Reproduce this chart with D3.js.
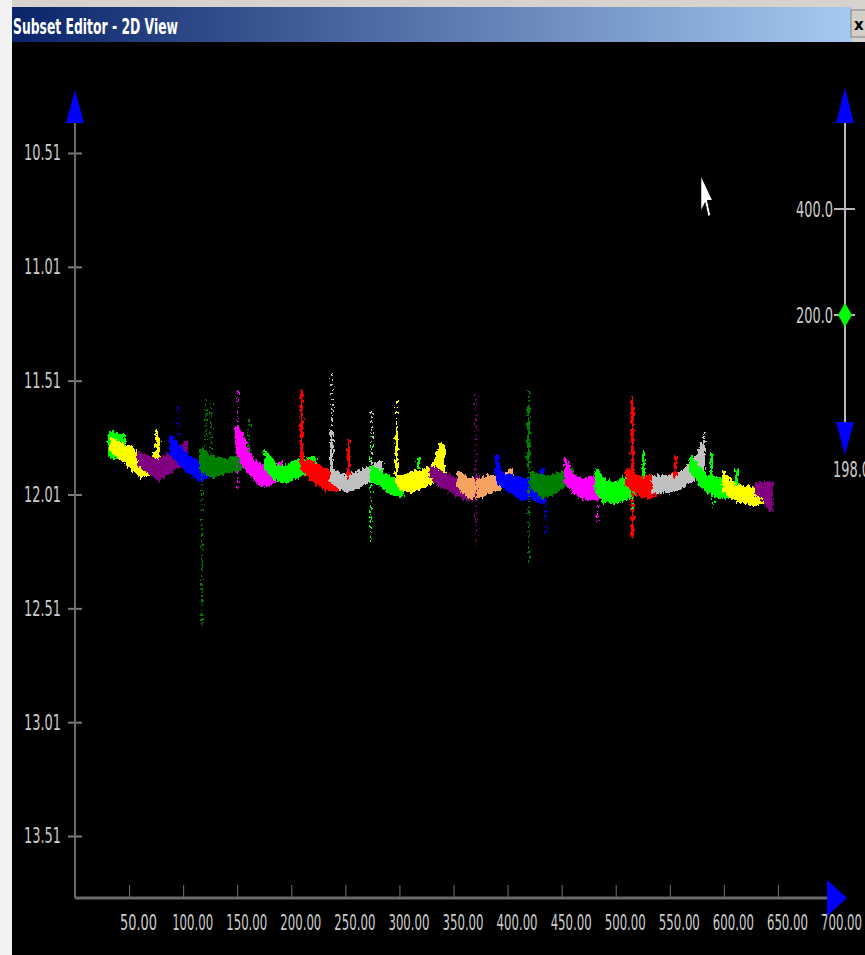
<!DOCTYPE html>
<html>
<head>
<meta charset="utf-8">
<script src="https://cdn.jsdelivr.net/npm/d3@7"></script>
<style>
  body { margin: 0; background: #d6d3ce; }
  svg { display: block; }
  .lbl { fill: #cccccc; font-family: "Liberation Sans Narrow", "DejaVu Sans Condensed", sans-serif; font-size: 18px; }
</style>
</head>
<body>
<div id="view"></div>
<script>
// tick values
var xTicks = [50, 100, 150, 200, 250, 300, 350, 400, 450, 500, 550, 600, 650, 700];
var yTicks = [10.51, 11.01, 11.51, 12.01, 12.51, 13.01, 13.51];
var sliderTicks = [400, 200];
var sliderValue = 200;
var sliderMin = 198;

// scatter segments (one band per subset)
var segColor = ["#00ff00", "#ffff00", "#800080", "#0000ff", "#008000", "#ff00ff", "#00ff00", "#ff0000",
    "#c0c0c0", "#00ff00", "#ffff00", "#800080", "#f4a460", "#0000ff", "#008000", "#ff00ff", "#00ff00",
    "#ff0000", "#c0c0c0", "#00ff00", "#ffff00", "#800080"];
var segX = [
    [32.3, 44.4],
    [33.3, 42.5, 51.7, 61.0, 68.4, 74.8, 77.6],
    [59.1, 68.4, 77.6, 86.9, 96.1, 103.5],
    [88.7, 96.1, 105.3, 114.6, 123.8, 128.4],
    [116.4, 126.6, 139.5, 151.5, 160.8],
    [149.7, 154.3, 163.5, 172.8, 182.0, 190.3],
    [176.5, 185.7, 195.0, 204.2, 213.4, 222.7],
    [209.7, 219.0, 231.9, 243.9, 253.2],
    [237.5, 250.4, 262.4, 274.4, 283.7],
    [274.4, 283.7, 292.9, 302.1],
    [297.5, 302.1, 311.4, 320.6, 329.9, 336.3, 341.0],
    [329.0, 336.3, 345.6, 354.8, 364.1, 373.3],
    [354.8, 364.1, 373.3, 382.5, 394.5, 403.8],
    [389.9, 394.5, 403.8, 413.0, 422.3, 433.4],
    [422.3, 431.5, 440.7, 450.0, 459.2],
    [453.7, 459.2, 468.5, 477.7, 486.9],
    [482.3, 490.6, 499.9, 509.1, 518.4],
    [510.0, 521.1, 530.4, 539.6, 548.9, 555.3],
    [535.0, 546.1, 555.3, 564.6, 573.8, 581.2],
    [569.2, 576.6, 585.8, 595.1, 604.3, 613.5],
    [599.7, 607.1, 616.3, 625.5, 634.8, 641.3],
    [629.2, 636.6, 644.0]
];
var segTop = [
    [11.737, 11.750],
    [11.768, 11.790, 11.803, 11.847, 11.878, 11.825, 11.768],
    [11.825, 11.847, 11.856, 11.834, 11.812, 11.781],
    [11.755, 11.799, 11.843, 11.869, 11.869, 11.878],
    [11.812, 11.847, 11.856, 11.843, 11.825],
    [11.711, 11.755, 11.856, 11.887, 11.900, 11.869],
    [11.821, 11.887, 11.887, 11.865, 11.856, 11.847],
    [11.856, 11.869, 11.900, 11.931, 11.931],
    [11.900, 11.931, 11.913, 11.887, 11.865],
    [11.887, 11.913, 11.944, 11.953],
    [11.922, 11.931, 11.913, 11.909, 11.887, 11.825, 11.799],
    [11.887, 11.909, 11.931, 11.944, 11.953, 11.931],
    [11.913, 11.944, 11.944, 11.931, 11.931, 11.900],
    [11.843, 11.913, 11.931, 11.944, 11.944, 11.900],
    [11.913, 11.931, 11.931, 11.913, 11.900],
    [11.856, 11.922, 11.944, 11.935, 11.944],
    [11.900, 11.953, 11.957, 11.935, 11.931],
    [11.900, 11.931, 11.931, 11.935, 11.931, 11.913],
    [11.931, 11.931, 11.931, 11.900, 11.856, 11.781],
    [11.847, 11.891, 11.931, 11.944, 11.957, 11.966],
    [11.913, 11.957, 11.975, 11.979, 11.975, 11.975],
    [11.966, 11.957, 11.957]
];
var segBottom = [
    [11.847, 11.847],
    [11.812, 11.856, 11.891, 11.931, 11.922, 11.887, 11.856],
    [11.878, 11.913, 11.944, 11.913, 11.887, 11.856],
    [11.834, 11.869, 11.913, 11.944, 11.931, 11.909],
    [11.900, 11.931, 11.913, 11.900, 11.878],
    [11.812, 11.869, 11.931, 11.975, 11.957, 11.931],
    [11.900, 11.944, 11.957, 11.935, 11.913, 11.900],
    [11.900, 11.944, 11.988, 11.988, 11.957],
    [11.957, 11.997, 11.975, 11.944, 11.931],
    [11.944, 11.975, 12.010, 12.019],
    [11.953, 11.988, 11.997, 11.979, 11.957, 11.931, 11.909],
    [11.931, 11.966, 11.988, 12.019, 12.032, 12.019],
    [11.975, 12.023, 12.023, 12.001, 11.979, 11.957],
    [11.931, 11.975, 12.001, 12.032, 12.023, 12.045],
    [11.975, 12.023, 12.010, 11.979, 11.957],
    [11.957, 11.988, 12.023, 12.032, 12.023],
    [12.001, 12.041, 12.045, 12.032, 12.001],
    [11.957, 12.010, 12.023, 12.001, 11.988, 11.975],
    [12.001, 11.997, 11.988, 11.966, 11.931, 11.900],
    [11.900, 11.953, 12.001, 12.019, 12.023, 12.032],
    [11.988, 12.023, 12.041, 12.054, 12.045, 12.041],
    [12.001, 12.032, 12.085]
];

// outlier spikes (vertical runs of points)
var spikeX =     [75.8, 95.2, 121.0, 125.7, 117.3, 160.8, 150.6, 209.7, 253.2, 237.5, 237.5, 274.4, 273.5, 317.9,
                  297.5, 297.5, 338.2, 371.0, 435.2, 419.5, 419.5, 483.3, 525.8, 515.6, 515.6, 555.3, 581.2, 588.6, 590.0, 611.7];
var spikeY0 =    [11.724, 11.627, 11.592, 11.605, 11.900, 11.680, 11.557, 11.549, 11.768, 11.482, 11.724, 11.649, 11.751, 11.847,
                  11.583, 11.724, 11.781, 11.570, 12.032, 11.557, 11.620, 12.032, 11.821, 11.583, 12.000, 11.843, 11.737, 11.825, 12.000, 11.900];
var spikeY1 =    [11.856, 11.755, 11.856, 11.900, 12.582, 11.825, 11.988, 11.869, 11.944, 11.724, 11.944, 11.900, 12.230, 11.900,
                  11.724, 11.944, 11.900, 12.252, 12.186, 12.318, 11.900, 12.142, 11.931, 12.195, 12.089, 11.931, 11.887, 11.944, 12.070, 11.966];
var spikeColor = ["#ffff00", "#0000ff", "#008000", "#008000", "#008000", "#008000", "#ff00ff", "#ff0000", "#ff0000", "#c0c0c0",
                  "#c0c0c0", "#c0c0c0", "#00ff00", "#00ff00", "#ffff00", "#ffff00", "#ffff00", "#800080", "#0000ff", "#008000",
                  "#008000", "#ff00ff", "#00ff00", "#ff0000", "#00ff00", "#ff0000", "#c0c0c0", "#00ff00", "#00ff00", "#00ff00"];
var spikeDotted = [0, 1, 1, 1, 1, 1, 1, 0, 0, 1, 0, 1, 1, 0, 1, 0, 0, 1, 1, 1, 0, 1, 0, 0, 1, 0, 1, 0, 1, 0];

var W = 865, H = 955;
var sY = 1.2; // the screenshot's text is stretched vertically
var svg = d3.select("#view").append("svg").attr("width", W).attr("height", H);

// window chrome
var defs = svg.append("defs");
var grad = defs.append("linearGradient").attr("id", "titleGrad");
grad.append("stop").attr("offset", "0%").attr("stop-color", "#0a246a");
grad.append("stop").attr("offset", "100%").attr("stop-color", "#a6caf0");

var filt = defs.append("filter").attr("id", "grain")
    .attr("filterUnits", "userSpaceOnUse")
    .attr("x", 60).attr("y", 330).attr("width", 800).attr("height", 330);
filt.append("feTurbulence").attr("type", "fractalNoise").attr("baseFrequency", "0.45 0.25")
    .attr("numOctaves", 2).attr("seed", 7).attr("result", "noise");
filt.append("feDisplacementMap").attr("in", "SourceGraphic").attr("in2", "noise")
    .attr("scale", 7).attr("xChannelSelector", "R").attr("yChannelSelector", "G");

svg.append("rect").attr("x", 0).attr("y", 0).attr("width", 12).attr("height", H).attr("fill", "#f2f2f2");
svg.append("rect").attr("x", 12).attr("y", 7).attr("width", 840).attr("height", 35).attr("fill", "url(#titleGrad)");
svg.append("text").attr("x", 13).attr("y", 34 / sY)
    .attr("transform", "scale(1," + sY + ")")
    .attr("fill", "#ffffff")
    .style("font-family", "'DejaVu Sans Condensed', 'Liberation Sans Narrow', sans-serif")
    .style("font-weight", "bold").style("font-size", "18px")
    .attr("textLength", 165).attr("lengthAdjust", "spacingAndGlyphs")
    .text("Subset Editor - 2D View");
svg.append("rect").attr("x", 851).attr("y", 10).attr("width", 18).attr("height", 27)
    .attr("fill", "#d4d0c8").attr("stroke", "#808080");
svg.append("text").attr("x", 854).attr("y", 30).attr("fill", "#000")
    .style("font-family", "'DejaVu Sans', sans-serif").style("font-weight", "bold").style("font-size", "15px")
    .text("x");
svg.append("rect").attr("x", 12).attr("y", 42).attr("width", W - 12).attr("height", H - 42).attr("fill", "#000");

// scales
var x = d3.scaleLinear().domain([0, 700]).range([75, 832]);
var y = d3.scaleLinear().domain([10.51, 13.51]).range([153, 836]);
var sy = d3.scaleLinear().domain([200, 400]).range([315, 209]);

var axisCol = "#6a6a6a";

// y axis
var gy = svg.append("g").attr("transform", "translate(" + x(0) + ",0)")
    .call(d3.axisLeft(y).tickValues(yTicks).tickFormat(d3.format(".2f")).tickSize(7).tickPadding(6));
gy.select(".domain").remove();
gy.selectAll(".tick line").attr("x1", 7).attr("x2", -7).attr("stroke", "#7a7a7a").attr("stroke-width", 2);
gy.selectAll(".tick text").attr("class", "lbl").attr("x", -14)
    .attr("transform", "scale(1," + sY + ")")
    .attr("textLength", 37).attr("lengthAdjust", "spacingAndGlyphs");
gy.append("line").attr("x1", 0).attr("x2", 0).attr("y1", 120).attr("y2", 898)
    .attr("stroke", axisCol).attr("stroke-width", 2);
gy.append("path").attr("d", "M-9,123 L0,90 L9,123 Z").attr("fill", "#0000ff");

// x axis
var gx = svg.append("g").attr("transform", "translate(0,898)")
    .call(d3.axisBottom(x).tickValues(xTicks).tickFormat(d3.format(".2f")).tickSize(0));
gx.select(".domain").remove();
gx.selectAll(".tick line").attr("y1", -13).attr("y2", 0).attr("stroke", "#707070").attr("stroke-width", 1);
gx.selectAll(".tick text").attr("class", "lbl").attr("x", 9).attr("y", 32 / sY).attr("dy", null)
    .attr("transform", "scale(1," + sY + ")")
    .attr("textLength", function(d) { return d < 100 ? 37 : 41; })
    .attr("lengthAdjust", "spacingAndGlyphs");
gx.append("line").attr("x1", x(0)).attr("x2", 830).attr("y1", 0).attr("y2", 0)
    .attr("stroke", axisCol).attr("stroke-width", 3);
gx.append("path").attr("d", "M827,-18 L847,0 L827,18 Z").attr("fill", "#0000ff");

// scatter bands
var plot = svg.append("g").attr("filter", "url(#grain)").attr("shape-rendering", "crispEdges");
var area = d3.area()
    .x(function(d) { return x(d.x); })
    .y0(function(d) { return y(d.top); })
    .y1(function(d) { return y(d.bot); });

var segs = segX.map(function(xs, i) {
    return {
        color: segColor[i],
        pts: xs.map(function(v, j) { return {x: v, top: segTop[i][j], bot: segBottom[i][j]}; })
    };
});
plot.selectAll("path.seg").data(segs).enter().append("path")
    .attr("class", "seg")
    .attr("d", function(d) { return area(d.pts); })
    .attr("fill", function(d) { return d.color; })
    .attr("stroke", function(d) { return d.color; })
    .attr("stroke-width", 3)
    .attr("stroke-linejoin", "round");

var spikes = spikeX.map(function(v, i) {
    return {x: v, y0: spikeY0[i], y1: spikeY1[i], color: spikeColor[i], dotted: spikeDotted[i]};
});
plot.selectAll("line.spike").data(spikes).enter().append("line")
    .attr("class", "spike")
    .attr("x1", function(d) { return x(d.x); })
    .attr("x2", function(d) { return x(d.x); })
    .attr("y1", function(d) { return y(d.y0); })
    .attr("y2", function(d) { return y(d.y1); })
    .attr("stroke", function(d) { return d.color; })
    .attr("stroke-width", function(d) { return d.dotted ? 2 : 3; })
    .attr("stroke-dasharray", function(d) { return d.dotted ? "2,3" : null; });

// slider on the right
var gs = svg.append("g");
gs.append("line").attr("x1", 845).attr("x2", 845).attr("y1", 120).attr("y2", 425)
    .attr("stroke", "#b8b8b8").attr("stroke-width", 2);
gs.append("path").attr("d", "M836,123 L845,88 L854,123 Z").attr("fill", "#0000ff");
gs.append("path").attr("d", "M836,422 L854,422 L845,455 Z").attr("fill", "#0000ff");
gs.selectAll("line.stick").data(sliderTicks).enter().append("line")
    .attr("class", "stick")
    .attr("x1", 834).attr("x2", 855)
    .attr("y1", function(d) { return sy(d); }).attr("y2", function(d) { return sy(d); })
    .attr("stroke", "#b8b8b8").attr("stroke-width", 2);
gs.selectAll("text.slbl").data(sliderTicks).enter().append("text")
    .attr("class", "lbl slbl")
    .attr("x", 833).attr("y", function(d) { return sy(d) / sY; }).attr("dy", "0.35em")
    .attr("transform", "scale(1," + sY + ")")
    .attr("text-anchor", "end")
    .attr("textLength", 37).attr("lengthAdjust", "spacingAndGlyphs")
    .text(function(d) { return d3.format(".1f")(d); });
gs.append("path")
    .attr("d", "M" + 845 + "," + (sy(sliderValue) - 12) + " l7,12 l-7,12 l-7,-12 Z")
    .attr("fill", "#00ff00");
gs.append("text").attr("class", "lbl").attr("x", 833).attr("y", 469 / sY).attr("dy", "0.35em")
    .attr("transform", "scale(1," + sY + ")")
    .attr("textLength", 37).attr("lengthAdjust", "spacingAndGlyphs")
    .text(d3.format(".1f")(sliderMin));

// mouse pointer left in the screenshot
svg.append("path")
    .attr("d", "M0,0 L0,17 L4,13 L7,20 L9,19 L6,12 L11,12 Z")
    .attr("transform", "translate(701,176) scale(1.05,2.05)")
    .attr("fill", "#ffffff").attr("stroke", "#000").attr("stroke-width", 0.5);
</script>
</body>
</html>
